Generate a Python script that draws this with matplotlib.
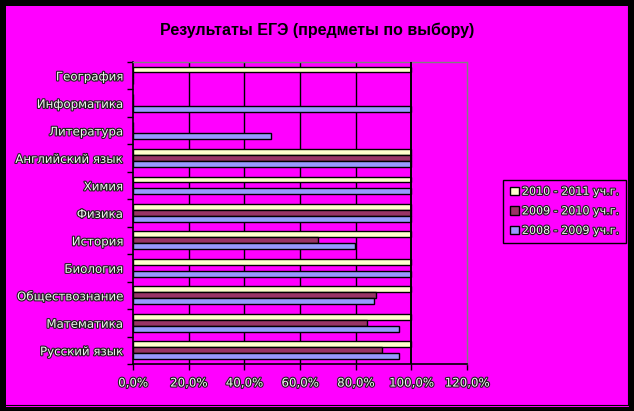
import matplotlib
matplotlib.use("Agg")
import matplotlib.pyplot as plt
import matplotlib.patheffects as pe
from matplotlib.patches import Rectangle
from matplotlib.lines import Line2D
import numpy as np

categories = ["Русский язык", "Математика", "Обществознание", "Биология", "История",
              "Физика", "Химия", "Английский язык", "Литература", "Информатика", "География"]
series_names = ["2010 - 2011 уч.г.", "2009 - 2010 уч.г.", "2008 - 2009 уч.г."]
v_2011 = [100, 100, 100, 100, 100, 100, 100, 100, 0, 0, 100]
v_2010 = [89.5, 84, 87.3, 0, 66.4, 100, 0, 100, 0, 0, 0]
v_2009 = [95.5, 95.5, 86.6, 100, 79.8, 100, 100, 100, 49.7, 100, 0]
xticks = [0, 20, 40, 60, 80, 100, 120]
xticklabels = ["0,0%", "20,0%", "40,0%", "60,0%", "80,0%", "100,0%", "120,0%"]
colors = ["#FFFFCC", "#993366", "#9999FF"]

W, H = 634, 411
fig = plt.figure(figsize=(W / 100, H / 100), dpi=100, facecolor="black")
MAG = "#FF00FF"

# background with double border
fig.patches.append(Rectangle((6 / W, 0 / H), (629 - 6) / W, (H - 6) / H - 0 / H,
                             transform=fig.transFigure, facecolor=MAG, edgecolor="none", zorder=0))
fig.patches.append(Rectangle((0, 0), 1, 4 / H, transform=fig.transFigure,
                             facecolor="black", edgecolor="none", zorder=0.5))
fig.lines.append(Line2D([6 / W, 629 / W], [6.5 / H, 6.5 / H], transform=fig.transFigure,
                        color="black", lw=0.8, zorder=1))
fig.lines.append(Line2D([627.5 / W, 627.5 / W], [6.5 / H, (H - 6) / H], transform=fig.transFigure,
                        color="black", lw=0.8, zorder=1))

ax = fig.add_axes([133 / W, (H - 364) / H, 334 / W, (364 - 61.7) / H])
ax.set_zorder(5)
ax.set_facecolor(MAG)

y = np.arange(len(categories))
h = 0.215
vals = [v_2011, v_2010, v_2009]
offsets = [h, 0, -h]
for vs, off, c, name in zip(vals, offsets, colors, series_names):
    ax.barh(y + off, vs, height=h, color=c, edgecolor="black", linewidth=1.0,
            label=name, zorder=3)

ax.set_xlim(0, 120)
ax.set_ylim(-0.5, len(categories) - 0.5)
ax.set_xticks(xticks)
ax.set_xticklabels(xticklabels)
for xv in xticks[1:-1]:
    ax.axvline(xv, color="black", lw=1.0 if xv < 100 else 1.4, zorder=1 if xv < 100 else 4)

ax.set_yticks(y)
ax.set_yticklabels(categories)
ax.set_yticks(np.arange(-0.5, len(categories), 1.0), minor=True)
ax.tick_params(axis="y", which="major", length=0, pad=7)
ax.tick_params(axis="y", which="minor", length=4, width=1, color="black", direction="out")
ax.tick_params(axis="x", length=4, width=1, color="black", direction="out", pad=5)

stroke = [pe.withStroke(linewidth=1.6, foreground="#202020")]
for lab in ax.get_yticklabels() + ax.get_xticklabels():
    lab.set_fontsize(8.5)
    lab.set_color("#f4f4f4")
    lab.set_family("DejaVu Sans")
    lab.set_path_effects(stroke)

for s in ["top", "right"]:
    ax.spines[s].set_color("#808080")
    ax.spines[s].set_linewidth(1.0)
for s in ["left", "bottom"]:
    ax.spines[s].set_color("black")
    ax.spines[s].set_linewidth(1.2)

fig.text(317 / W, 1 - 30 / H, "Результаты ЕГЭ (предметы по выбору)", ha="center", va="center",
         fontsize=11.5, fontweight="bold", color="black", family="Liberation Sans", zorder=6)

leg = fig.legend(loc="upper left", bbox_to_anchor=(503 / W, 1 - 180 / H), frameon=True,
                 fancybox=False, edgecolor="black", facecolor=MAG, framealpha=1,
                 handlelength=0.8, handleheight=0.8, handletextpad=0.3,
                 borderpad=0.6, labelspacing=0.85, borderaxespad=0,
                 prop={"family": "DejaVu Sans", "size": 8})
leg.set_zorder(6)
leg.get_frame().set_linewidth(1.0)
for t in leg.get_texts():
    t.set_color("#f4f4f4")
    t.set_path_effects(stroke)

fig.savefig("out.png", dpi=100, facecolor="black")
